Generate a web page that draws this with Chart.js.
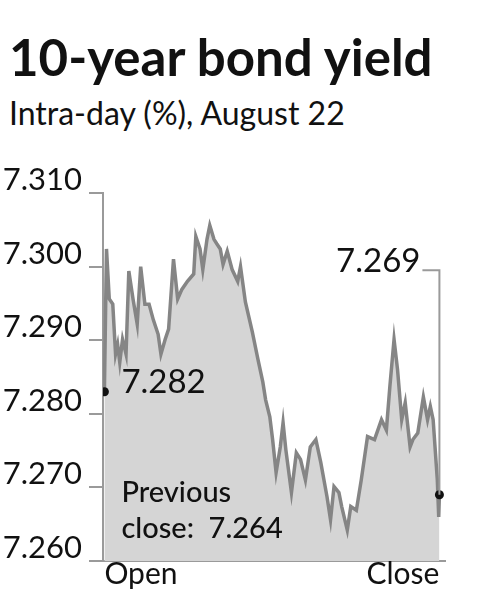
<!DOCTYPE html>
<html>
<head>
<meta charset="utf-8">
<script src="https://cdn.jsdelivr.net/npm/chart.js@4.4.1/dist/chart.umd.min.js"></script>
<style>
body { margin: 0; background: #fff; width: 481px; height: 608px; overflow: hidden; font-family: Lato, sans-serif; color: #111; }
#title { position: absolute; left: 9px; top: 26px; font-weight: 700; font-size: 51px; line-height: 1.2; white-space: nowrap; }
#sub { position: absolute; left: 9px; top: 94px; font-size: 32px; line-height: 1.2; white-space: nowrap; }
#wrap { position: absolute; left: 0; top: 150px; width: 481px; height: 458px; }
</style>
</head>
<body>
<div id="title">10-year bond yield</div>
<div id="sub">Intra-day (%), August 22</div>
<div id="wrap"><canvas id="chart" width="481" height="458"></canvas></div>
<script>
'use strict';

// minutes after open
var times = [0, 3, 7, 12, 16, 19, 22, 26, 31, 35, 41, 47, 52, 58, 64, 70, 77, 81, 87, 92,
	99, 105, 111, 119, 128, 131, 137, 141, 147, 151, 157, 161, 166, 170, 176, 183, 191, 195,
	202, 212, 220, 227, 231, 237, 241, 246, 252, 256, 260, 268, 275, 281, 288, 295, 303,
	310, 319, 324, 329, 336, 340, 348, 353, 361, 368, 377, 387, 397, 404, 409, 415, 420,
	426, 431, 438, 442, 449, 457, 463, 467, 471, 477, 479, 480]

// yield (%)
var yields = [7.283, 7.3024, 7.2956, 7.2949, 7.2881, 7.2894, 7.2870, 7.2901, 7.2881, 7.2994,
	7.2956, 7.2922, 7.3000, 7.2949, 7.2949, 7.2928, 7.2908, 7.2881, 7.2901, 7.2915,
	7.3010, 7.2956, 7.2969, 7.2980, 7.2990, 7.3041, 7.3024, 7.2996, 7.3037, 7.3056,
	7.3037, 7.3031, 7.3024, 7.3003, 7.3021, 7.2996, 7.2980, 7.3000,
	7.2952, 7.2911, 7.2874, 7.2843, 7.2819, 7.2796, 7.2765, 7.2720, 7.2755, 7.2788,
	7.2751, 7.2693, 7.2747, 7.2738, 7.2710, 7.2755, 7.2765,
	7.2734, 7.2687, 7.2656, 7.2701, 7.2693, 7.2674, 7.2642, 7.2674, 7.2669, 7.2710,
	7.2769, 7.2765, 7.2792, 7.2778, 7.2837, 7.2901, 7.2860,
	7.2792, 7.2815, 7.2755, 7.2765, 7.2774, 7.2823, 7.2792, 7.2810, 7.2792, 7.2710,
	7.2660, 7.2690]

var yTicks = [7.260, 7.270, 7.280, 7.290, 7.300, 7.310]
var xTicks = [0, 480]
var xLabels = ['Open', 'Close']
var openText = '7.282'
var closeText = '7.269'
var prevCloseText = ['Previous', 'close:  7.264']

var ink = '#111'
var axisGrey = '#9a9a9a'

var notes = {
	id: 'notes',
	afterDatasetsDraw(chart) {
		var c = chart.ctx, x = chart.scales.x, y = chart.scales.y
		var x0 = x.getPixelForValue(times[0]), y0 = y.getPixelForValue(yields[0])
		var x1 = x.getPixelForValue(times[times.length - 1]), y1 = y.getPixelForValue(yields[yields.length - 1])
		c.save()
		c.fillStyle = ink
		c.textBaseline = 'alphabetic'
		c.font = '33px Lato'
		c.textAlign = 'left'
		c.fillText(openText, x0 + 17, y0 + 1)
		// leader line for close value
		var ly = y.getPixelForValue(7.2995)
		c.strokeStyle = axisGrey
		c.lineWidth = 2
		c.beginPath()
		c.moveTo(x1 - 17, ly)
		c.lineTo(x1, ly)
		c.lineTo(x1, y1)
		c.stroke()
		c.textAlign = 'right'
		c.fillText(closeText, x1 - 19, ly + 2)
		c.textAlign = 'left'
		c.font = '500 29px Lato'
		c.fillText(prevCloseText[0], x0 + 17, chart.chartArea.bottom - 59)
		c.fillText(prevCloseText[1], x0 + 17, chart.chartArea.bottom - 23)
		c.restore()
	}
}

var pts = times.map((t, i) => ({x: t, y: yields[i]}))
var radii = times.map((t, i) => (i == 0 || i == times.length - 1) ? 4.5 : 0)

new Chart(document.getElementById('chart').getContext('2d'), {
	type: 'line',
	data: {
		datasets: [{
			data: pts,
			borderColor: '#858585',
			borderWidth: 3.5,
			backgroundColor: '#d5d5d5',
			fill: 'start',
			tension: 0,
			pointRadius: radii,
			pointBackgroundColor: ink,
			pointBorderWidth: 0
		}]
	},
	options: {
		responsive: false,
		animation: false,
		layout: {padding: {top: 43, right: 36, left: 0, bottom: 0}},
		plugins: {legend: {display: false}, tooltip: {enabled: false}},
		scales: {
			x: {
				type: 'linear',
				min: -2,
				max: 488,
				afterBuildTicks: (axis) => { axis.ticks = xTicks.map((v) => ({value: v})) },
				afterFit: (axis) => { axis.height = 47 },
				ticks: {
					callback: (v) => xLabels[xTicks.indexOf(v)],
					align: 'inner',
					maxRotation: 0,
					color: ink,
					font: {family: 'Lato', size: 30},
					padding: -13
				},
				grid: {display: false},
				border: {display: true, color: axisGrey, width: 2}
			},
			y: {
				min: 7.26,
				max: 7.31,
				afterBuildTicks: (axis) => { axis.ticks = yTicks.map((v) => ({value: v})) },
				afterFit: (axis) => { axis.width = 103 },
				ticks: {
					callback: (v) => v.toFixed(3),
					color: ink,
					font: {family: 'Lato', size: 31},
					padding: 7,
					labelOffset: -13
				},
				grid: {drawOnChartArea: false, tickLength: 14, color: axisGrey, lineWidth: 2},
				border: {display: true, color: axisGrey, width: 2}
			}
		}
	},
	plugins: [notes]
})
</script>
</body>
</html>
